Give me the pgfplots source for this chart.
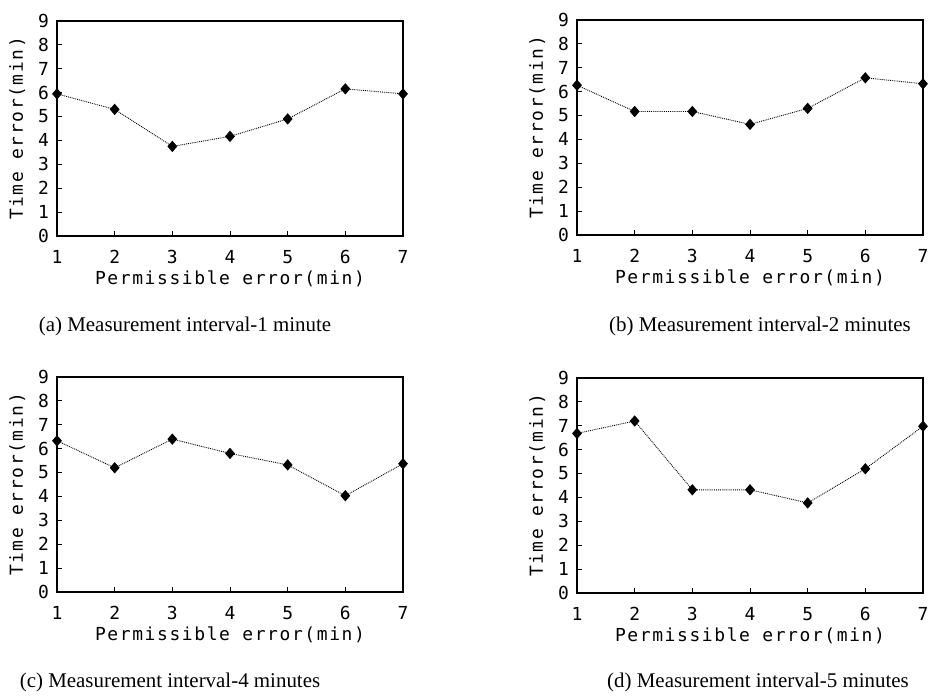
\documentclass[border=0pt]{standalone}
\usepackage{fontspec}
\setmainfont{Liberation Serif}
\newfontfamily\tfont[LetterSpace=9]{DejaVu Sans Mono}
\usepackage{pgfplots}
\pgfplotsset{compat=1.18}

\pgfplotsset{
  panel/.style={
    scale only axis,
    width=346bp, height=215bp,
    anchor=south west,
    xmin=1, xmax=7, ymin=0, ymax=9,
    xtick={1,...,7}, ytick={0,...,9},
    tick align=inside,
    xtick pos=bottom, ytick pos=left,
    major tick length=5bp,
    axis line style={line width=1.1bp},
    every tick/.style={black, line width=0.8bp},
    /pgf/number format/assume math mode=true,
    tick label style={font=\fontsize{18}{20}\tfont},
    xticklabel style={anchor=center, yshift=-21bp},
    yticklabel style={anchor=east, inner sep=0pt, xshift=-8bp},
    xlabel={Permissible error(min)},
    ylabel={Time error(min)},
    label style={font=\fontsize{18}{20}\tfont},
    xlabel style={at={(axis description cs:0.5,-0.2)}, anchor=center},
    ylabel style={at={(axis description cs:-0.115,0.5)}, anchor=center, rotate=0},
    clip=false,
  },
  ser/.style={black, line width=0.9bp, densely dotted,
    mark=diamond*, mark size=5bp,
    mark options={solid, fill=black, xscale=1.15}},
}

\begin{document}
\begin{tikzpicture}
\useasboundingbox (0,0) rectangle (934bp,696bp);

% (a)
\begin{axis}[panel, at={(57bp,460bp)}]
\addplot[ser] coordinates {(1,5.95) (2,5.3) (3,3.75) (4,4.17) (5,4.9) (6,6.16) (7,5.95)};
\end{axis}

% (b)
\begin{axis}[panel, at={(577bp,461bp)}]
\addplot[ser] coordinates {(1,6.27) (2,5.17) (3,5.17) (4,4.63) (5,5.3) (6,6.58) (7,6.33)};
\end{axis}

% (c)
\begin{axis}[panel, at={(57bp,104bp)}]
\addplot[ser] coordinates {(1,6.33) (2,5.2) (3,6.4) (4,5.8) (5,5.32) (6,4.03) (7,5.37)};
\end{axis}

% (d)
\begin{axis}[panel, at={(577bp,103bp)}]
\addplot[ser] coordinates {(1,6.68) (2,7.2) (3,4.32) (4,4.32) (5,3.77) (6,5.2) (7,6.98)};
\end{axis}

\begin{scope}[every node/.style={font=\fontsize{21}{24}\selectfont}]
\node at (185bp,370bp) {(a) Measurement interval-1 minute};
\node at (760bp,370bp) {(b) Measurement interval-2 minutes};
\node at (170bp,14bp) {(c) Measurement interval-4 minutes};
\node at (758bp,14bp) {(d) Measurement interval-5 minutes};
\end{scope}
\end{tikzpicture}
\end{document}
